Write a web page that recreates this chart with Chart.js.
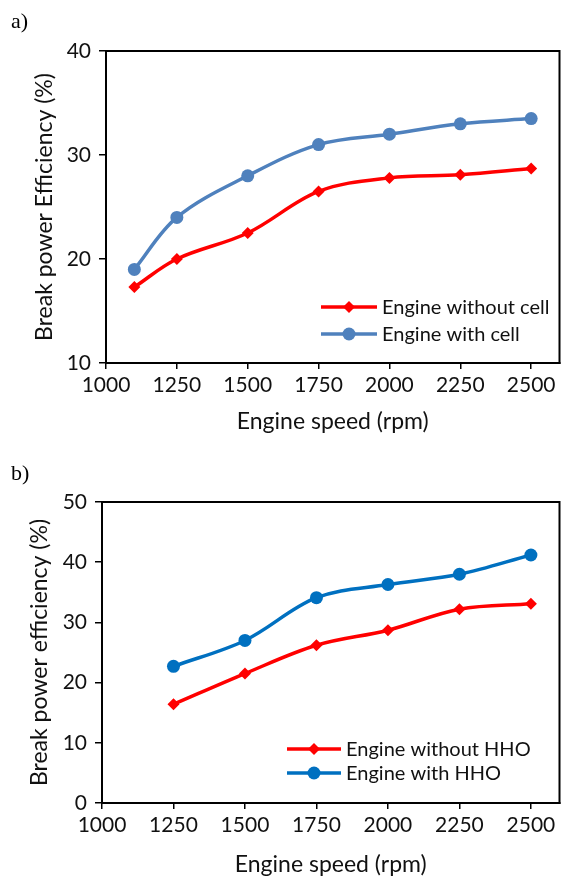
<!DOCTYPE html>
<html>
<head>
<meta charset="utf-8">
<script src="https://cdn.jsdelivr.net/npm/chart.js@4.4.0/dist/chart.umd.min.js"></script>
<style>
body { margin: 0; background: #fff; width: 566px; height: 878px; position: relative; overflow: hidden; }
.panel { position: absolute; left: 0; width: 566px; }
.tag { position: absolute; left: 11px; font-family: "Liberation Serif", serif; font-size: 22px; color: #000; }
</style>
</head>
<body>
<div class="panel" style="top:0;height:440px"><canvas id="chartA" width="566" height="440"></canvas></div>
<div class="tag" style="top:8px">a)</div>
<div class="panel" style="top:440px;height:438px"><canvas id="chartB" width="566" height="438"></canvas></div>
<div class="tag" style="top:460px">b)</div>
<script>
// chart a
const speedA = [1100, 1250, 1500, 1750, 2000, 2250, 2500];
const withoutCell = [17.3, 20.0, 22.5, 26.5, 27.8, 28.1, 28.7];
const withCell = [19.0, 24.0, 28.0, 31.0, 32.0, 33.0, 33.5];

// chart b
const speedB = [1250, 1500, 1750, 2000, 2250, 2500];
const withoutHHO = [16.4, 21.5, 26.2, 28.7, 32.2, 33.1];
const withHHO = [22.7, 27.0, 34.1, 36.3, 38.0, 41.2];

const xTicks = [1000, 1250, 1500, 1750, 2000, 2250, 2500];
const yTicksA = [10, 20, 30, 40];
const yTicksB = [0, 10, 20, 30, 40, 50];

const textColor = "#111";
const font = "Lato";

// black box round the plot area
const framePlugin = {
  id: "frame",
  beforeDatasetsDraw(chart) {
    const { ctx, chartArea: a } = chart;
    ctx.save();
    ctx.strokeStyle = "#000";
    ctx.lineWidth = 2;
    ctx.strokeRect(a.left, a.top, a.right - a.left, a.bottom - a.top);
    ctx.restore();
  }
};

// legend drawn inside the plot, excel style
const boxLegend = {
  id: "boxLegend",
  afterDatasetsDraw(chart, args, opts) {
    const ctx = chart.ctx;
    ctx.save();
    chart.data.datasets.forEach((ds, i) => {
      const y = opts.y + i * opts.gap;
      ctx.strokeStyle = ds.borderColor;
      ctx.lineWidth = ds.borderWidth;
      ctx.beginPath();
      ctx.moveTo(opts.x, y);
      ctx.lineTo(opts.x + opts.len, y);
      ctx.stroke();
      const cx = opts.x + opts.len / 2;
      const r = ds.pointRadius;
      ctx.fillStyle = ds.borderColor;
      ctx.beginPath();
      if (ds.pointStyle === "rectRot") {
        ctx.moveTo(cx, y - r);
        ctx.lineTo(cx + r, y);
        ctx.lineTo(cx, y + r);
        ctx.lineTo(cx - r, y);
        ctx.closePath();
      } else {
        ctx.arc(cx, y, r, 0, Math.PI * 2);
      }
      ctx.fill();
      ctx.fillStyle = textColor;
      ctx.font = opts.size + "px " + font;
      ctx.textBaseline = "middle";
      ctx.fillText(ds.label, opts.x + opts.len + 5, y + 1);
    });
    ctx.restore();
  }
};

function series(label, xs, ys, color, style, radius) {
  return {
    label: label,
    data: xs.map((x, i) => ({ x: x, y: ys[i] })),
    borderColor: color,
    backgroundColor: color,
    borderWidth: 3.5,
    pointStyle: style,
    pointRadius: radius,
    pointBorderWidth: 0,
    tension: 0.35,
    fill: false
  };
}

function axes(yMin, yMax, yTicks, yTitle, yWidth, yTitlePad, xHeight, xTitlePad) {
  return {
    x: {
      type: "linear",
      min: 1000,
      max: 2600,
      afterBuildTicks: s => { s.ticks = xTicks.map(v => ({ value: v })); },
      afterFit: s => { s.height = xHeight; },
      grid: { drawOnChartArea: false, color: "#000", lineWidth: 1.5, tickLength: 6 },
      border: { color: "#000", width: 2 },
      ticks: { color: textColor, font: { family: font, size: 21 }, padding: 4, maxRotation: 0, autoSkip: false, callback: v => String(v) },
      title: { display: true, text: "Engine speed (rpm)", color: textColor, font: { family: font, size: 23 }, padding: { top: 0, bottom: xTitlePad } }
    },
    y: {
      min: yMin,
      max: yMax,
      afterBuildTicks: s => { s.ticks = yTicks.map(v => ({ value: v })); },
      afterFit: s => { s.width = yWidth; },
      grid: { drawOnChartArea: false, color: "#000", lineWidth: 1.5, tickLength: 7 },
      border: { color: "#000", width: 2 },
      ticks: { color: textColor, font: { family: font, size: 21 }, padding: 8, callback: v => String(v) },
      title: { display: true, text: yTitle, color: textColor, font: { family: font, size: 23 }, padding: { top: yTitlePad, bottom: 0 } }
    }
  };
}

new Chart(document.getElementById("chartA"), {
  type: "line",
  data: {
    datasets: [
      series("Engine without cell", speedA, withoutCell, "#ff0000", "rectRot", 6),
      series("Engine with cell", speedA, withCell, "#4f81bd", "circle", 6.5)
    ]
  },
  options: {
    responsive: false,
    animation: false,
    layout: { padding: { top: 51, right: 3, left: 0, bottom: 0 } },
    scales: axes(10, 40, yTicksA, "Break power Efficiency (%)", 106, 31, 77, 5),
    plugins: {
      legend: { display: false },
      tooltip: { enabled: false },
      boxLegend: { x: 321, y: 307, gap: 27, len: 56, size: 20 }
    }
  },
  plugins: [framePlugin, boxLegend]
});

new Chart(document.getElementById("chartB"), {
  type: "line",
  data: {
    datasets: [
      series("Engine without HHO", speedB, withoutHHO, "#ff0000", "rectRot", 6),
      series("Engine with HHO", speedB, withHHO, "#0070c0", "circle", 6.5)
    ]
  },
  options: {
    responsive: false,
    animation: false,
    layout: { padding: { top: 62, right: 3, left: 0, bottom: 0 } },
    scales: axes(0, 50, yTicksB, "Break power efficiency (%)", 102, 26, 75, 0),
    plugins: {
      legend: { display: false },
      tooltip: { enabled: false },
      boxLegend: { x: 287, y: 309, gap: 24, len: 54, size: 20 }
    }
  },
  plugins: [framePlugin, boxLegend]
});
</script>
</body>
</html>
